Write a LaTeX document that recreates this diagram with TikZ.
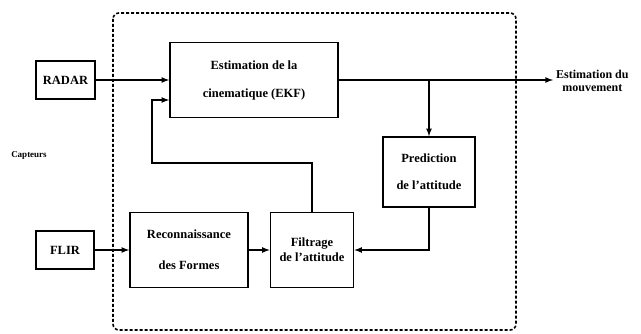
\documentclass[tikz,border=0pt]{standalone}
\usepackage{fontspec}
\setmainfont{Liberation Serif}
\usetikzlibrary{calc, positioning, arrows}

\begin{document}
\begin{tikzpicture}[
    x=1pt, y=-1pt,
    every node/.style={font=\bfseries\fontsize{12.5}{14}\selectfont},
    bloc/.style={draw, rectangle, line width=1.6pt, align=center, inner sep=0pt},
    label/.style={align=center, inner sep=0pt},
    arrow/.style={-latex, line width=1.6pt},
    cadre/.style={densely dashed, line width=1.6pt, rounded corners=6pt}
]
\useasboundingbox (0,0) rectangle (641,334);

% cadre du systeme
\draw[cadre] (113,13) rectangle (516,330);

% capteurs
\node[bloc, minimum width=59pt, minimum height=38pt] (radar) at (65.5,80) {RADAR};
\node[bloc, minimum width=58pt, minimum height=38pt] (flir) at (65,250) {FLIR};
\node[label, font=\bfseries\fontsize{9}{10}\selectfont] (capteurs) at (29,155) {Capteurs};

% blocs de traitement
\node[bloc, minimum width=168pt, minimum height=75pt] (ekf) at (254,80) {Estimation de la\\[14pt]cinematique (EKF)};
\node[bloc, minimum width=92pt, minimum height=70pt] (pred) at (429,172) {Prediction\\[13pt]de l'attitude};
\node[bloc, minimum width=118pt, minimum height=75pt] (recon) at (189,250) {Reconnaissance\\[17pt]des Formes};
\node[bloc, minimum width=83pt, minimum height=75pt] (filt) at (312,250) {Filtrage\\[1pt]de l'attitude};

% sortie
\coordinate (sortie) at (553,80);
\coordinate (branche) at (429,80);
\coordinate (retour) at (152,163);
\node[label, anchor=west, font=\bfseries\fontsize{12}{13}\selectfont] (estim) at (556,81) {Estimation du\\mouvement};

\draw[arrow] (radar) -- (ekf);
\draw[arrow] (ekf.east |- sortie) -- (sortie);
\draw[arrow] (branche) -- (pred.north);
\draw[arrow] (pred.south) |- (filt.east);
\draw[arrow] (flir) -- (recon);
\draw[arrow] (recon) -- (filt);
\draw[arrow] (filt.north) |- (retour) |- ($(ekf.west)+(0,20)$);
\end{tikzpicture}
\end{document}
